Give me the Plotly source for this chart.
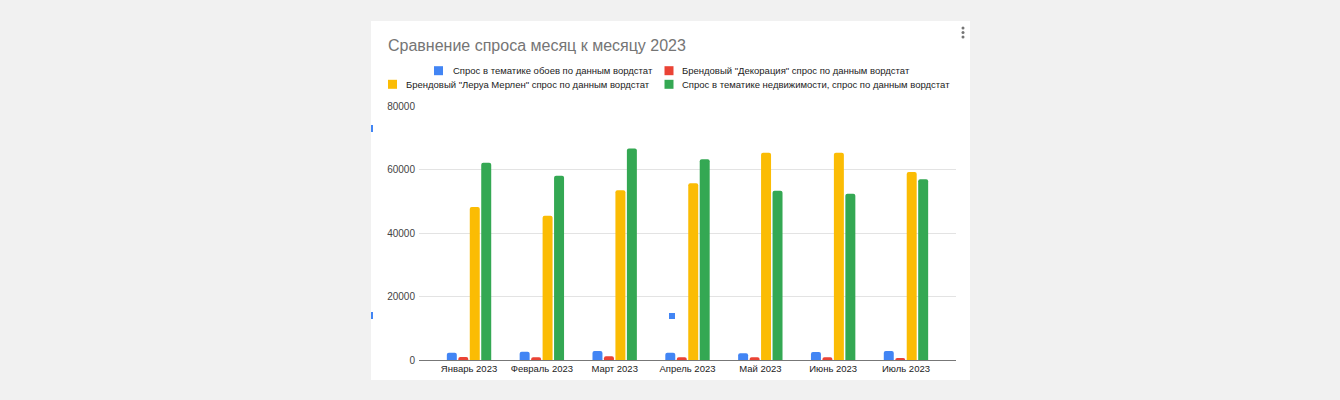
import plotly.graph_objects as go

# data
months = ["Январь 2023", "Февраль 2023", "Март 2023", "Апрель 2023", "Май 2023", "Июнь 2023", "Июль 2023"]
series_names = [
    "Спрос в тематике обоев по данным вордстат",
    "Брендовый \"Декорация\" спрос по данным вордстат",
    "Брендовый \"Леруа Мерлен\" спрос по данным вордстат",
    "Спрос в тематике недвижимости, спрос по данным вордстат",
]
wallpaper = [2300, 2600, 2850, 2300, 2100, 2500, 2850]
decor = [950, 900, 1150, 900, 850, 850, 650]
leroy = [48200, 45400, 53500, 55700, 65300, 65300, 59200]
realty = [62100, 58000, 66600, 63200, 53300, 52400, 56900]
y_ticks = [0, 20000, 40000, 60000, 80000]

colors = ["#4285f4", "#ea4335", "#fbbc04", "#34a853"]
values = [wallpaper, decor, leroy, realty]

W, H = 1340, 400
L, R, T, B = 419, 956, 106, 360  # plot area in pixels


def px2x(px):
    return (px - L) / (R - L)


def py2y(py):
    return (B - py) / (B - T)


fig = go.Figure()
for name, vals, col in zip(series_names, values, colors):
    fig.add_trace(go.Bar(x=months, y=vals, name=name, marker_color=col,
                         marker_line_width=0, showlegend=False))

font = "Liberation Sans, Arial, sans-serif"

shapes = [
    # white card behind the chart
    dict(type="rect", xref="paper", yref="paper", x0=px2x(371), x1=px2x(970),
         y0=py2y(380), y1=py2y(21), fillcolor="white", line_width=0, layer="below"),
    # selection handles
    dict(type="rect", xref="paper", yref="paper", x0=px2x(371), x1=px2x(373),
         y0=py2y(132), y1=py2y(125), fillcolor="#4285f4", line_width=0),
    dict(type="rect", xref="paper", yref="paper", x0=px2x(371), x1=px2x(373),
         y0=py2y(319), y1=py2y(312), fillcolor="#4285f4", line_width=0),
    dict(type="rect", xref="paper", yref="paper", x0=px2x(669), x1=px2x(675),
         y0=py2y(319), y1=py2y(313), fillcolor="#4285f4", line_width=0),
]
# menu dots
for cy in [28, 32.5, 37]:
    shapes.append(dict(type="circle", xref="paper", yref="paper",
                       x0=px2x(961.5), x1=px2x(964.5), y0=py2y(cy + 1.5), y1=py2y(cy - 1.5),
                       fillcolor="#757575", line_width=0))

# legend in two rows, like the google chart
legend_pos = [(434, 451, 70.7), (664.5, 680, 70.7), (388, 404, 84.3), (664.5, 680, 84.3)]
annotations = []
for name, col, (sx, tx, ty) in zip(series_names, colors, legend_pos):
    shapes.append(dict(type="rect", xref="paper", yref="paper", x0=px2x(sx), x1=px2x(sx + 9),
                       y0=py2y(ty + 4.5), y1=py2y(ty - 4.5), fillcolor=col, line_width=0))
    annotations.append(dict(text=name, xref="paper", yref="paper", x=px2x(tx), y=py2y(ty),
                            xanchor="left", yanchor="middle", showarrow=False,
                            font=dict(size=9.5, color="#222222")))

fig.update_layout(
    width=W, height=H, autosize=False,
    margin=dict(l=L, r=W - R, t=T, b=H - B, pad=0),
    paper_bgcolor="#f1f1f1",
    plot_bgcolor="white",
    font=dict(family=font, size=9.5, color="#444444"),
    title=dict(text="Сравнение спроса месяц к месяцу 2023", xref="container", yref="container",
               x=388 / W, xanchor="left", y=1 - 45.5 / H, yanchor="middle",
               font=dict(family=font, size=16, color="#757575")),
    barmode="group",
    bargap=0.37,
    bargroupgap=0.13,
    barcornerradius=2,
    xaxis=dict(range=[-0.687, 6.687], showline=True, linecolor="#777777", linewidth=1,
               ticks="", tickfont=dict(color="#222222", size=9.5), showgrid=False),
    yaxis=dict(range=[0, 80000], tickvals=y_ticks, tickformat="d", showgrid=True,
               gridcolor="#e3e3e3", zeroline=False, ticks="", ticklabelstandoff=3,
               tickfont=dict(color="#444444", size=10)),
    shapes=shapes,
    annotations=annotations,
)

fig.write_html("out.html", config={"displayModeBar": False},
               post_script="document.body.style.margin='0';")
